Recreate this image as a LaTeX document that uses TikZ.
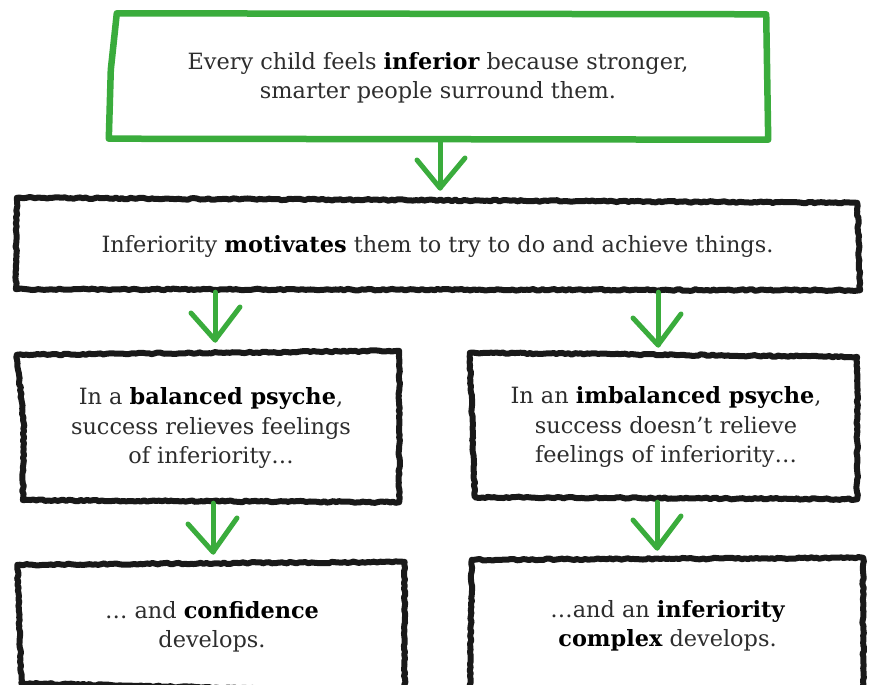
\documentclass[tikz,border=0pt]{standalone}
\usepackage{fontspec}
\setmainfont{DejaVu Serif}
\usetikzlibrary{decorations.pathmorphing,calc}
\definecolor{grn}{RGB}{58,172,60}
\definecolor{ink}{RGB}{25,25,25}
\definecolor{txt}{RGB}{45,45,45}
\pgfmathsetseed{7}
\begin{document}
\begin{tikzpicture}[x=1pt,y=-1pt,
  boxn/.style={inner sep=0pt, align=center, text=txt,
    font=\fontsize{22.4}{29.5}\selectfont},
  inkline/.style={draw=ink, line width=6pt, line join=round, line cap=round,
    decorate, decoration={random steps, segment length=3pt, amplitude=0.8pt}},
  grnline/.style={draw=grn, line width=6.5pt, line join=round, line cap=round},
  garrow/.style={draw=grn, line width=5pt, line cap=round, line join=round}]
\clip (0,0) rectangle (873,685);
\fill[white] (0,0) rectangle (873,685);

% box nodes
\node[boxn, minimum width=660pt, minimum height=127pt] (b1) at (438,78)
  {Every child feels \textbf{\color{black}inferior} because stronger,\\ smarter people surround them.};
\node[boxn, minimum width=845pt, minimum height=92pt] (b2) at (437.5,246)
  {Inferiority \textbf{\color{black}motivates} them to try to do and achieve things.};
\node[boxn, minimum width=380pt, minimum height=150pt] (b3) at (211,428)
  {In a \textbf{\color{black}balanced psyche},\\ success relieves feelings\\ of inferiority…};
\node[boxn, minimum width=390pt, minimum height=150pt] (b4) at (666,427)
  {In an \textbf{\color{black}imbalanced psyche},\\ success doesn’t relieve\\ feelings of inferiority…};
\node[boxn, minimum width=385pt, minimum height=124pt] (b5) at (212,627)
  {… and \textbf{\color{black}confidence}\\ develops.};
\node[boxn, minimum width=395pt, minimum height=132pt] (b6) at (667.5,626)
  {…and an \textbf{\color{black}inferiority}\\ \textbf{\color{black}complex} develops.};

% borders
\draw[grnline] ([shift={(9,-1)}]b1.north west) -- ([shift={(-2,0)}]b1.north east)
  -- ([shift={(0,-2)}]b1.south east) -- ([shift={(1,-3)}]b1.south west)
  -- ([shift={(3,-72)}]b1.south west) -- cycle;
\draw[inkline] ([shift={(2,-2)}]b2.north west) -- ([shift={(-3,3)}]b2.north east)
  -- ([shift={(0,-2)}]b2.south east) -- ([shift={(1,-3)}]b2.south west) -- cycle;
\draw[inkline] ([shift={(-4,2)}]b3.north west) -- ([shift={(-2,-2)}]b3.north east)
  -- ([shift={(-2,-1)}]b3.south east) -- ([shift={(2,-3)}]b3.south west)
  -- ([shift={(3,-80)}]b3.south west) -- cycle;
\draw[inkline] ([shift={(-1,1)}]b4.north west) -- ([shift={(-4,5)}]b4.north east)
  -- ([shift={(-4,-3)}]b4.south east) -- ([shift={(4,-5)}]b4.south west) -- cycle;
\draw[inkline] ([shift={(-2,0)}]b5.north west) -- ([shift={(0,-3)}]b5.north east)
  -- ([shift={(0,3)}]b5.south east) -- ([shift={(2,-6)}]b5.south west) -- cycle;
\draw[inkline] ([shift={(2,0)}]b6.north west) -- ([shift={(-2,-2)}]b6.north east)
  -- ([shift={(-2,8)}]b6.south east) -- ([shift={(0,8)}]b6.south west) -- cycle;

% arrows
\coordinate (a1) at (440,188);
\coordinate (a2) at (215,340);
\coordinate (a3) at (658,345);
\coordinate (a4) at (213,552);
\coordinate (a5) at (657,548);
\draw[garrow] (b1.south -| a1) -- (a1);
\draw[garrow] ([shift={(-23,-28)}]a1) -- (a1) -- ([shift={(25,-30)}]a1);
\draw[garrow] (b2.south -| a2) -- (a2);
\draw[garrow] ([shift={(-24,-27)}]a2) -- (a2) -- ([shift={(25,-33)}]a2);
\draw[garrow] (b2.south -| a3) -- (a3);
\draw[garrow] ([shift={(-25,-27)}]a3) -- (a3) -- ([shift={(23,-31)}]a3);
\draw[garrow] (b3.south -| a4) -- (a4);
\draw[garrow] ([shift={(-25,-28)}]a4) -- (a4) -- ([shift={(24,-34)}]a4);
\draw[garrow] (b4.south -| a5) -- (a5);
\draw[garrow] ([shift={(-24,-28)}]a5) -- (a5) -- ([shift={(24,-32)}]a5);
\end{tikzpicture}
\end{document}
